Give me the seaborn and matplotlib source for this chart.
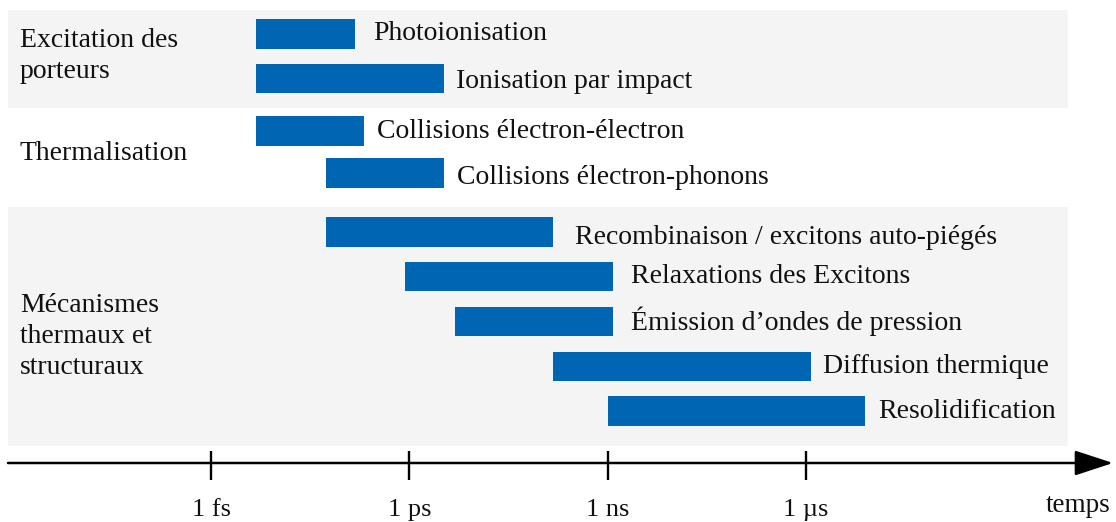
import numpy as np
import matplotlib
matplotlib.use("Agg")
import matplotlib.pyplot as plt
import seaborn as sns

# processes and their time ranges (seconds)
processes = [
    "Photoionisation",
    "Ionisation par impact",
    "Collisions électron-électron",
    "Collisions électron-phonons",
    "Recombinaison / excitons auto-piégés",
    "Relaxations des Excitons",
    "Émission d\u2019ondes de pression",
    "Diffusion thermique",
    "Resolidification",
]
t_start = [4.8e-15, 4.8e-15, 4.8e-15, 5.4e-14, 5.4e-14, 8.6e-13, 4.9e-12, 1.5e-10, 1.0e-9]
t_end = [1.5e-13, 3.3e-12, 2.1e-13, 3.3e-12, 1.5e-10, 1.19e-9, 1.19e-9, 1.19e-6, 7.9e-6]
group_of = [0, 0, 1, 1, 2, 2, 2, 2, 2]

groups = ["Excitation des\nporteurs", "Thermalisation", "Mécanismes\nthermaux et\nstructuraux"]

tick_values = [1e-15, 1e-12, 1e-9, 1e-6]
tick_labels = ["1 fs", "1 ps", "1 ns", "1 \u00b5s"]

# layout (y in pixel-like units, top = 0)
W, H = 1116, 522
group_start = [34, 131, 232]
group_step = [44.5, 42, 44.75]
bar_h = 29.3
band_edges = [(10, 108), None, (207, 446)]
label_pad = [18, 12, 13, 13, 22, 18, 18, 12, 13]
label_dy = [0, 3, 0, 4, 6, 0, 0, 0, 0]
group_dy = [0, 2, 15]
axis_y = 463
blue = "#0066b3"
band_color = "#f4f4f4"
ink = "#111111"

sns.set_theme(style="white")
plt.rcParams["font.family"] = ["Liberation Serif", "DejaVu Serif"]

fig = plt.figure(figsize=(W / 100, H / 100), dpi=100)
ax = fig.add_axes([0, 0, 1, 1])
ax.set_xscale("log")
x0_px, decade_px = 211, 66.1
ax.set_xlim(10 ** (-15 - x0_px / decade_px), 10 ** (-15 + (W - x0_px) / decade_px))
ax.set_ylim(H, 0)
ax.axis("off")

# row centres
rows = []
k_in_group = {}
for g in group_of:
    k = k_in_group.get(g, 0)
    rows.append(group_start[g] + k * group_step[g])
    k_in_group[g] = k + 1
rows = np.array(rows)

# background bands
for edges in band_edges:
    if edges is None:
        continue
    ax.axhspan(edges[0], edges[1], xmin=8 / W, xmax=1068 / W, color=band_color, lw=0, zorder=0)

starts = np.array(t_start)
ends = np.array(t_end)
ax.barh(rows, ends - starts, left=starts, height=bar_h, color=blue, edgecolor="none", zorder=2)

for i, name in enumerate(processes):
    ax.annotate(name, xy=(ends[i], rows[i] + label_dy[i]), xytext=(label_pad[i] * 0.72, 0),
                textcoords="offset points", va="center", ha="left", fontsize=20, color=ink)

# group labels
for g, name in enumerate(groups):
    ys = rows[np.array(group_of) == g]
    ax.text(20 / W, ys.mean() + group_dy[g], name, transform=ax.get_yaxis_transform(),
            ha="left", va="center", fontsize=20, linespacing=1.3, color=ink)

# time axis with arrow
ax.annotate("", xy=(1113 / W, axis_y), xytext=(8 / W, axis_y),
            xycoords=("axes fraction", "data"), textcoords=("axes fraction", "data"),
            arrowprops=dict(arrowstyle="-|>,head_length=23.8,head_width=7.8", mutation_scale=1,
                            lw=1.8, color="black", shrinkA=0, shrinkB=0))
ax.vlines(tick_values, 451, 480, color="black", lw=1.7)
for v, lab in zip(tick_values, tick_labels):
    ax.text(v, 510, lab, ha="center", va="center", fontsize=19, color=ink)
ax.text(1111 / W, 505, "temps", transform=ax.get_yaxis_transform(),
        ha="right", va="center", fontsize=19.5, color=ink)

fig.savefig("out.png", dpi=100)
plt.close()
